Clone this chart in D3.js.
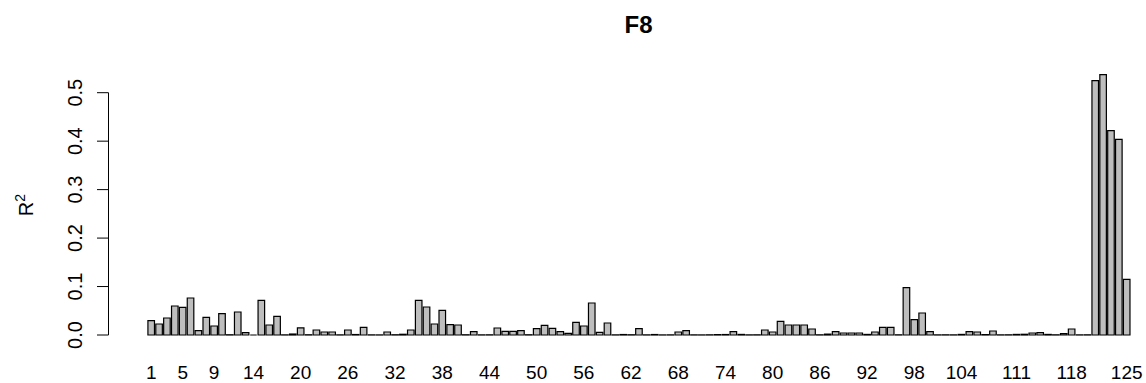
<!DOCTYPE html>
<html>
<head>
<meta charset="utf-8">
<script src="https://cdn.jsdelivr.net/npm/d3@7"></script>
<style>
  body { margin: 0; background: #fff; }
  svg text { font-family: "Liberation Sans", Arial, sans-serif; fill: #000; }
</style>
</head>
<body>
<svg id="chart"></svg>
<script>
let width = 1146;
let height = 383;

// bar ids 1..125
const barIds = d3.range(1, 126);

const r2 = [
  0.0296, 0.0227, 0.0351, 0.0598, 0.0571, 0.0764, 0.0089, 0.0365, 0.0186, 0.0440,
  0.0005, 0.0475, 0.0048, 0.0000, 0.0715, 0.0206, 0.0385, 0.0003, 0.0020, 0.0148,
  0.0005, 0.0103, 0.0062, 0.0062, 0.0003, 0.0103, 0.0010, 0.0158, 0.0003, 0.0002,
  0.0062, 0.0005, 0.0015, 0.0103, 0.0715, 0.0578, 0.0227, 0.0509, 0.0213, 0.0206,
  0.0005, 0.0069, 0.0003, 0.0004, 0.0144, 0.0076, 0.0076, 0.0089, 0.0005, 0.0131,
  0.0199, 0.0138, 0.0069, 0.0034, 0.0261, 0.0186, 0.0660, 0.0055, 0.0248, 0.0003,
  0.0010, 0.0005, 0.0131, 0.0003, 0.0010, 0.0002, 0.0003, 0.0062, 0.0089, 0.0003,
  0.0002, 0.0004, 0.0008, 0.0010, 0.0069, 0.0012, 0.0003, 0.0004, 0.0103, 0.0062,
  0.0282, 0.0206, 0.0206, 0.0206, 0.0124, 0.0004, 0.0018, 0.0069, 0.0041, 0.0041,
  0.0041, 0.0012, 0.0062, 0.0158, 0.0158, 0.0004, 0.0977, 0.0316, 0.0454, 0.0069,
  0.0003, 0.0004, 0.0003, 0.0012, 0.0069, 0.0062, 0.0008, 0.0083, 0.0003, 0.0004,
  0.0012, 0.0015, 0.0041, 0.0048, 0.0012, 0.0004, 0.0030, 0.0124, 0.0003, 0.0004,
  0.5248, 0.5374, 0.4216, 0.4038, 0.1149
];

const xTickLabels = [1, 5, 9, 14, 20, 26, 32, 38, 44, 50, 56, 62, 68, 74, 80, 86, 92, 98, 104, 111, 118, 125];
const yTicks = [0, 0.1, 0.2, 0.3, 0.4, 0.5];

let svg = d3.select("#chart")
    .attr("width", width)
    .attr("height", height);

// R barplot units: bar i spans [0.2 + (i-1)*1.2, i*1.2]
let center = (i) => i * 1.2 - 0.5;

let x = d3.scaleLinear()
    .domain([center(1), center(125)])
    .range([151.2, 1126.7]);
let y = d3.scaleLinear()
    .domain([0, 0.5])
    .range([335, 92.7]);

// bars as paths so zero-height bars still show their outline
svg.append("g")
    .selectAll("path.bar")
    .data(barIds)
    .enter().append("path")
    .attr("class", "bar")
    .attr("d", function(d, i) {
        let x0 = x(center(d) - 0.5);
        let w = x(center(d) + 0.5) - x0;
        let y0 = y(0);
        let h = y(r2[i]) - y0;
        return `M${x0},${y0}h${w}v${h}h${-w}Z`;
    })
    .style("fill", "#bebebe")
    .style("stroke", "#000")
    .style("stroke-width", 1.2);

// y axis
let yAxis = svg.append("g").attr("transform", "translate(108.5,0)");
yAxis.append("line")
    .attr("y1", y(0)).attr("y2", y(0.5))
    .style("stroke", "#000").style("stroke-width", 1);
yAxis.selectAll("line.tick")
    .data(yTicks)
    .enter().append("line")
    .attr("class", "tick")
    .attr("x1", 0).attr("x2", -11.5)
    .attr("y1", (d) => y(d)).attr("y2", (d) => y(d))
    .style("stroke", "#000").style("stroke-width", 1);
yAxis.selectAll("text")
    .data(yTicks)
    .enter().append("text")
    .attr("transform", (d) => `translate(-26.8,${y(d)}) rotate(-90)`)
    .style("text-anchor", "middle")
    .style("font-size", "20px")
    .text((d) => d3.format(".1f")(d));

// x labels under bars
svg.append("g")
    .selectAll("text")
    .data(xTickLabels)
    .enter().append("text")
    .attr("x", (d) => x(center(d)))
    .attr("y", 379)
    .style("text-anchor", "middle")
    .style("font-size", "19px")
    .text((d) => d);

// y label
let ylab = svg.append("text")
    .attr("transform", "translate(32.7,205) rotate(-90)")
    .style("text-anchor", "middle")
    .style("font-size", "20px");
ylab.append("tspan").text("R");
ylab.append("tspan")
    .attr("dy", -8)
    .style("font-size", "14px")
    .text("2");

// title
svg.append("text")
    .attr("x", 638.5)
    .attr("y", 33)
    .style("text-anchor", "middle")
    .style("font-size", "24px")
    .style("font-weight", "bold")
    .text("F8");
</script>
</body>
</html>
